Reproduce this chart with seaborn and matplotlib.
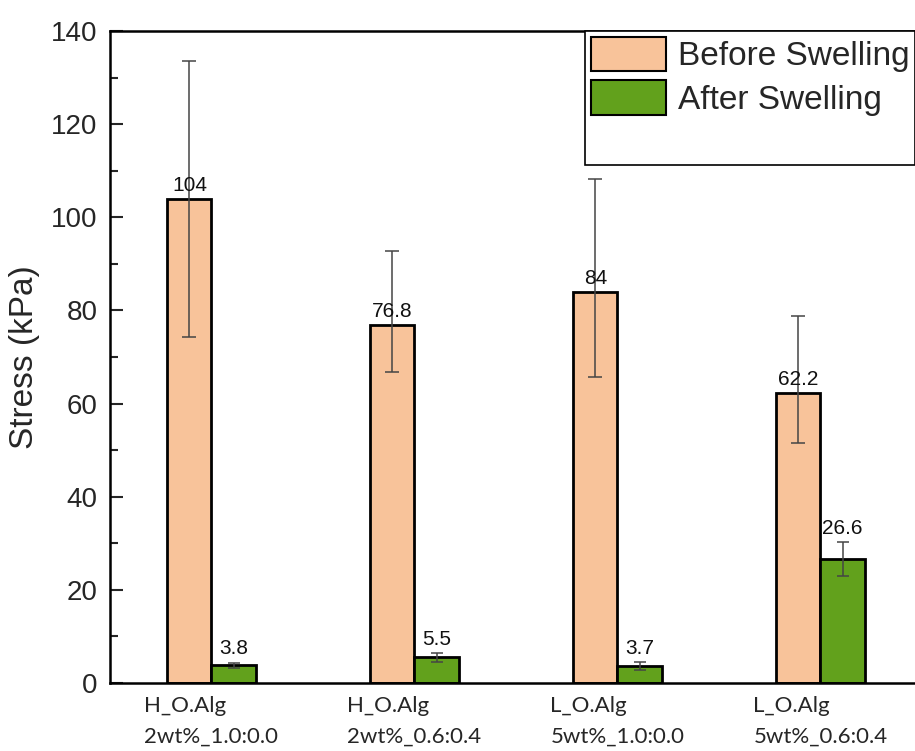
import matplotlib
matplotlib.use("Agg")
import matplotlib.pyplot as plt
import seaborn as sns
import pandas as pd
from matplotlib.patches import Patch
from matplotlib.ticker import MultipleLocator

categories = ["H_O.Alg\n2wt%_1.0:0.0", "H_O.Alg\n2wt%_0.6:0.4",
              "L_O.Alg\n5wt%_1.0:0.0", "L_O.Alg\n5wt%_0.6:0.4"]
series = ["Before Swelling", "After Swelling"]
before_values = [104, 76.8, 84, 62.2]
after_values = [3.8, 5.5, 3.7, 26.6]
before_err_up = [29.6, 15.9, 24.2, 16.6]
before_err_down = [29.6, 10.0, 18.3, 10.7]
after_err_up = [0.6, 1.0, 0.8, 3.7]
after_err_down = [0.5, 1.0, 0.9, 3.6]
before_labels = ["104", "76.8", "84", "62.2"]
after_labels = ["3.8", "5.5", "3.7", "26.6"]

df = pd.DataFrame({
    "Group": categories * 2,
    "Series": [series[0]] * 4 + [series[1]] * 4,
    "Stress": before_values + after_values,
})

sns.set_style("white")
plt.rcParams['font.family'] = ['Liberation Sans', 'DejaVu Sans']

fig = plt.figure(figsize=(9.15, 7.51), dpi=100)
ax = fig.add_axes([0.1202, 0.0905, 0.8874, 0.8682])
colors = {"Before Swelling": "#F8C39A", "After Swelling": "#62A11C"}
sns.barplot(data=df, x="Group", y="Stress", hue="Series", palette=colors,
            width=0.435, edgecolor="black", linewidth=2, ax=ax, legend=False,
            errorbar=None, saturation=1)

err_sets = [(before_err_down, before_err_up, 5), (after_err_down, after_err_up, 4.3)]
vals_sets = [before_values, after_values]
for ci, cont in enumerate(ax.containers[:2]):
    xs = [b.get_x() + b.get_width() / 2 for b in cont]
    vals = vals_sets[ci]
    dn, up, cs = err_sets[ci]
    ax.errorbar(xs, vals, yerr=[dn, up], fmt='none', ecolor='#454545',
                elinewidth=1.1, capsize=cs, capthick=1.1, zorder=5)
    labels = before_labels if ci == 0 else after_labels
    for i, x in enumerate(xs):
        y = vals[i] if ci == 0 else vals[i] + up[i]
        ax.annotate(labels[i], (x, y), xytext=(0, 3), textcoords='offset points',
                    ha='center', va='bottom', fontsize=15, color='#111111', zorder=6)

ax.set_ylim(0, 140)
ax.set_xlim(-0.5, 3.5)
ax.yaxis.set_major_locator(MultipleLocator(20))
ax.yaxis.set_minor_locator(MultipleLocator(10))
ax.tick_params(axis='y', which='major', direction='in', length=9.5, width=1.5,
               labelsize=20, pad=9, left=True)
ax.tick_params(axis='y', which='minor', direction='in', length=6, width=1.5, left=True)
ax.tick_params(axis='x', length=0, pad=9)
ax.set_xticks(range(4))
ax.set_xticklabels(categories, fontsize=16, linespacing=1.7,
                   multialignment='left', family=['Lato', 'DejaVu Sans'])
ax.set_xlabel('')
ax.set_ylabel('Stress (kPa)', fontsize=24, labelpad=8)

for s in ['left', 'bottom', 'top']:
    ax.spines[s].set_visible(True)
    ax.spines[s].set_color('black')
    ax.spines[s].set_linewidth(1.8)
ax.spines['right'].set_visible(False)

handles = [Patch(facecolor=colors[series[0]], edgecolor='black', linewidth=1.5, label=series[0]),
           Patch(facecolor=colors[series[1]], edgecolor='black', linewidth=1.5, label=series[1]),
           Patch(facecolor='none', edgecolor='none', label=' ')]
leg = ax.legend(handles=handles, loc='upper left', bbox_to_anchor=(0.585, 1.0),
                borderaxespad=0, fontsize=24, handlelength=2.25, handleheight=1.2,
                labelspacing=0.25, handletextpad=0.36, borderpad=0.17, frameon=True,
                fancybox=False, edgecolor='black', framealpha=1)
leg.get_frame().set_linewidth(1.2)

fig.savefig("out.png", dpi=100)
